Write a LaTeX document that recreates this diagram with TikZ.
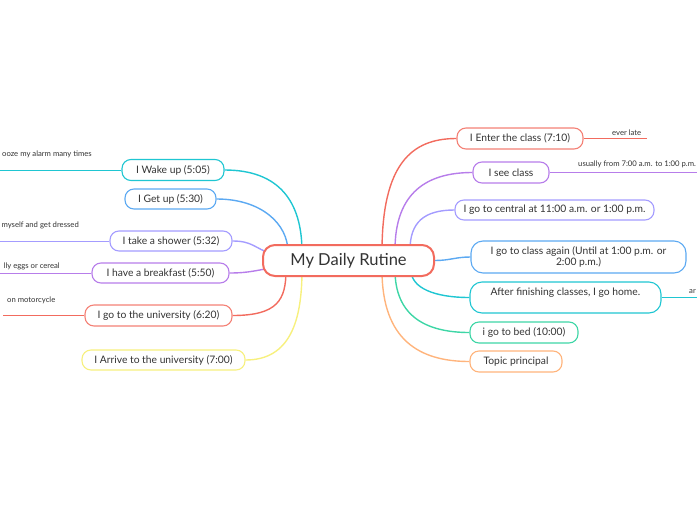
\documentclass[tikz,border=0pt]{standalone}
\usepackage{fontspec}
\setmainfont{Lato}
\usetikzlibrary{backgrounds}
\definecolor{txt}{HTML}{333333}
\definecolor{cred}{HTML}{F26B5E}
\definecolor{ccyan}{HTML}{1FC6D2}
\definecolor{cblue}{HTML}{5CA9F2}
\definecolor{cperi}{HTML}{A49CFF}
\definecolor{cpurp}{HTML}{B77DEA}
\definecolor{cyell}{HTML}{F7F07E}
\definecolor{cgreen}{HTML}{3ED6A6}
\definecolor{corange}{HTML}{FFB47C}
\tikzset{
  box/.style={draw, rounded corners=9pt, fill=white, line width=1.1pt, inner sep=0pt,
    text=txt, font=\fontsize{10.3}{11}\selectfont, align=center},
  branch/.style={line width=1.4pt},
  twig/.style={line width=0.9pt},
  small/.style={inner sep=0pt, text=txt, font=\fontsize{7.7}{8}\selectfont},
}
\begin{document}
\begin{tikzpicture}[x=1pt,y=-1pt]
\useasboundingbox (0,0) rectangle (697,520);
% center anchor coordinates
\coordinate (rt1) at (382,252);
\coordinate (rt2) at (395,250);
\coordinate (rt3) at (410,250);
\coordinate (rb1) at (382,270);
\coordinate (rb2) at (395,270);
\coordinate (rb3) at (411,270);
\coordinate (lt1) at (302,252);
\coordinate (lt2) at (288,252);
\coordinate (lt3) at (272,254);
\coordinate (lm) at (272,268);
\coordinate (lb1) at (286,270);
\coordinate (lb2) at (302,270);
\node[box, draw=cred, line width=2pt, rounded corners=12pt, minimum width=171pt, minimum height=31pt,
  font=\fontsize{16.5}{18}\selectfont] (root) at (348.5,260.5) {My Daily Rutine};
\node[box, draw=ccyan, minimum width=102pt, minimum height=21pt] (n1) at (173,170) {I Wake up (5:05)};
\node[box, draw=cblue, minimum width=91pt, minimum height=20pt] (n2) at (170.5,199) {I Get up (5:30)};
\node[box, draw=cperi, minimum width=122pt, minimum height=20pt] (n3) at (171,241) {I take a shower (5:32)};
\node[box, draw=cpurp, minimum width=137pt, minimum height=20pt] (n4) at (160.5,273) {I have a breakfast (5:50)};
\node[box, draw=cred!85, minimum width=147pt, minimum height=21pt] (n5) at (158.5,315.5) {I go to the university (6:20)};
\node[box, draw=cyell, minimum width=163pt, minimum height=20pt] (n6) at (163.5,360) {I Arrive to the university (7:00)};
\node[box, draw=cred!85, minimum width=126pt, minimum height=21pt] (m1) at (520,138.5) {I Enter the class (7:10)};
\node[box, draw=cpurp, minimum width=76pt, minimum height=21pt] (m2) at (511,172.5) {I see class};
\node[box, draw=cperi, minimum width=199pt, minimum height=20pt] (m3) at (554.5,210) {I go to central at 11:00 a.m. or 1:00 p.m.};
\node[box, draw=cblue, minimum width=215pt, minimum height=32pt, rounded corners=12pt] (m4) at (578.5,257) {I go to class again (Until at 1:00 p.m. or\\2:00 p.m.)};
\node[box, draw=ccyan, minimum width=191pt, minimum height=31pt, rounded corners=12pt,
  text height=8pt, text depth=13pt] (m5) at (565.5,297.5) {After finishing classes, I go home.};
\node[box, draw=cgreen, minimum width=108pt, minimum height=21pt] (m6) at (524,332.5) {i go to bed (10:00)};
\node[box, draw=corange, minimum width=92pt, minimum height=21pt] (m7) at (516,361.5) {Topic principal};
% edge coordinates for free ends
\coordinate (e1) at (0,170);
\coordinate (e3) at (0,241);
\coordinate (e4) at (0,273);
\coordinate (e5) at (3,315.5);
\coordinate (f1) at (647,138.5);
\coordinate (f2) at (697,172.5);
\coordinate (f5) at (697,297.5);
% small labels
\node[small, anchor=south east] (s1) at (92,158) {ooze my alarm many times};
\node[small, anchor=south east] (s3) at (79,229) {myself and get dressed};
\node[small, anchor=south east] (s4) at (60,270.5) {lly eggs or cereal};
\node[small, anchor=south west] (s5) at (7,304) {on motorcycle};
\node[small, anchor=south west] (t1) at (612,136) {ever late};
\node[small, anchor=south west] (t2) at (578,168) {usually from 7:00 a.m. to 1:00 p.m.};
\node[small, anchor=south west] (t5) at (689,294) {ar};
% connectors (behind nodes)
\begin{scope}[on background layer]
  % right side
  \draw[branch, cred] (rt1) .. controls +(0,-88) and +(-45,0) .. (m1.west);
  \draw[branch, cpurp] (rt2) .. controls +(0,-58) and +(-45,0) .. (m2.west);
  \draw[branch, cperi] (rt3) .. controls +(0,-28) and +(-30,0) .. (m3.west);
  \draw[branch, cblue] (root.east) .. controls +(15,0) and +(-15,0) .. (m4.west);
  \draw[branch, ccyan] (rb3) .. controls +(0,18) and +(-35,0) .. (m5.west);
  \draw[branch, cgreen] (rb2) .. controls +(0,45) and +(-45,0) .. (m6.west);
  \draw[branch, corange] (rb1) .. controls +(0,70) and +(-50,0) .. (m7.west);
  % left side
  \draw[branch, ccyan] (n1.east) .. controls +(55,0) and +(0,-50) .. (lt1);
  \draw[branch, cblue] (n2.east) .. controls +(45,0) and +(0,-28) .. (lt2);
  \draw[branch, cperi] (n3.east) .. controls +(20,0) and +(-18,-6) .. (lt3);
  \draw[branch, cpurp] (n4.east) .. controls +(20,0) and +(-15,2) .. (lm);
  \draw[branch, cred] (n5.east) .. controls +(45,0) and +(0,30) .. (lb1);
  \draw[branch, cyell] (n6.east) .. controls +(45,0) and +(0,50) .. (lb2);
  % free ends
  \draw[twig, ccyan] (n1.west) -- (e1);
  \draw[twig, cperi] (n3.west) -- (e3);
  \draw[twig, cpurp] (n4.west) -- (e4);
  \draw[twig, cred] (n5.west) -- (e5);
  \draw[twig, cred] (m1.east) -- (f1);
  \draw[twig, cpurp] (m2.east) -- (f2);
  \draw[twig, ccyan] (m5.east) -- (f5);
\end{scope}
\end{tikzpicture}
\end{document}
